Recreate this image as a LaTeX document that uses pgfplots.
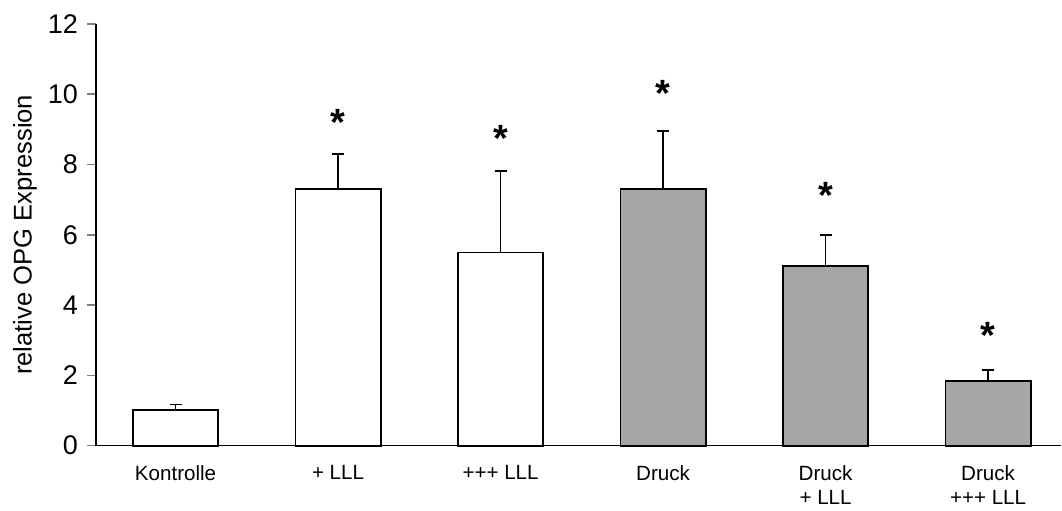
\documentclass[border=0pt]{standalone}
\usepackage{pgfplots}
\pgfplotsset{compat=1.18}
\usepackage{fontspec}
\setmainfont{Liberation Sans}
\definecolor{bargray}{RGB}{166,166,166}
\begin{document}
\begin{tikzpicture}
\begin{axis}[
  scale only axis,
  width=483pt, height=211pt,
  xmin=-0.49, xmax=5.45,
  ymin=0, ymax=12,
  ytick={0,2,...,12},
  axis x line*=bottom,
  axis y line*=left,
  axis line style={line width=0.8pt},
  tick align=outside,
  major tick length=4.5pt,
  ytick style={line width=0.8pt},
  xtick={0,1,2,3,4,5},
  xticklabels={Kontrolle,+ LLL,+++ LLL,Druck,{Druck\\+ LLL},{Druck\\+++ LLL}},
  xtick style={draw=none},
  xticklabel style={align=center, font=\fontsize{10.3}{11.8}\selectfont, yshift=-2pt},
  yticklabel style={font=\fontsize{13.5}{15}\selectfont, xshift=-1pt},
  /pgf/number format/assume math mode=true,
  ylabel={relative OPG Expression},
  every axis y label/.style={at={(axis description cs:0,0.5)}, rotate=90, anchor=center, yshift=35.5pt, font=\fontsize{12.8}{14}\selectfont},
  clip=false,
]
\addplot[ybar, bar shift=0pt, bar width=0.525, fill=white, draw=black, line width=0.9pt,
  error bars/.cd, y dir=plus, y explicit,
  error bar style={line width=0.9pt},
  error mark options={rotate=90, mark size=3pt, line width=0.9pt}]
  coordinates {(0,1.02) +- (0,0.15) (1,7.31) +- (0,1.00) (2,5.50) +- (0,2.31)};
\addplot[ybar, bar shift=0pt, bar width=0.525, fill=bargray, draw=black, line width=0.9pt,
  error bars/.cd, y dir=plus, y explicit,
  error bar style={line width=0.9pt},
  error mark options={rotate=90, mark size=3pt, line width=0.9pt}]
  coordinates {(3,7.30) +- (0,1.66) (4,5.12) +- (0,0.88) (5,1.85) +- (0,0.31)};
\addplot[draw=none, mark=none, nodes near coords={\textbf{*}},
  every node near coord/.style={anchor=base, yshift=-10.5pt, font=\fontsize{19}{19}\selectfont}]
  coordinates {(1,9.41) (2,8.98) (3,10.26) (4,7.34) (5,3.36)};
\end{axis}
\useasboundingbox (-48pt,-29pt) rectangle (483pt,223pt);
\end{tikzpicture}
\end{document}
